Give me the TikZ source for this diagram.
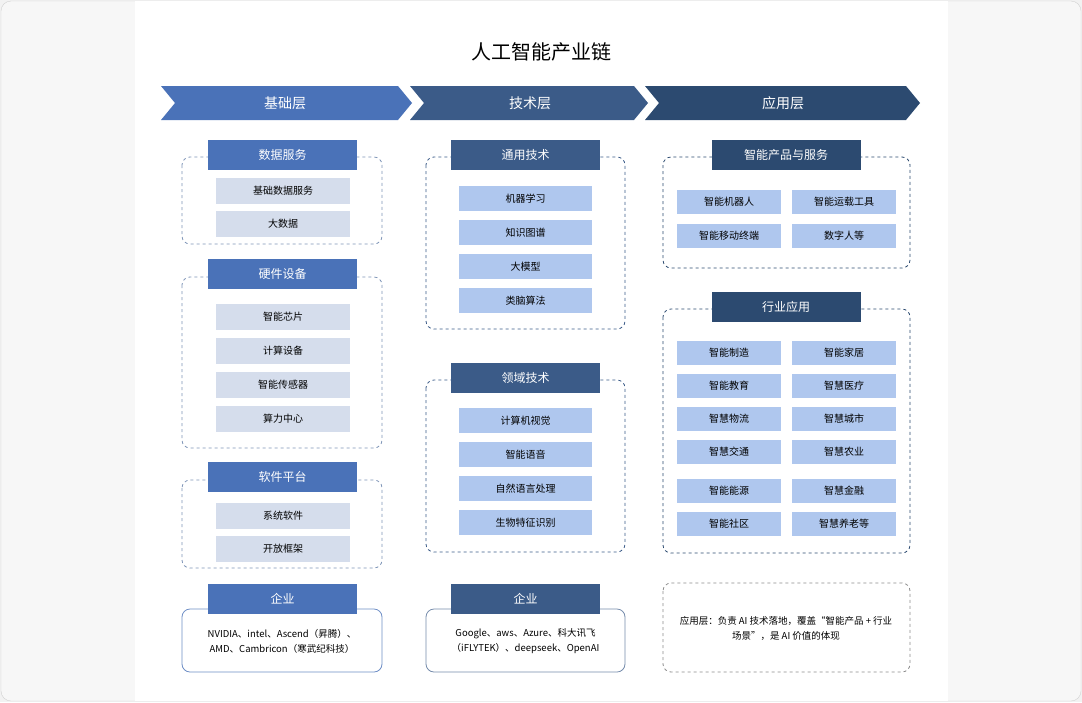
\documentclass[tikz,border=0pt]{standalone}
\usepackage{fontspec}
\setmainfont{Noto Sans CJK SC}
\begin{document}
\begin{tikzpicture}[x=1pt,y=-1pt,
  hdrA/.style={fill=cA,text=white,minimum width=149pt,minimum height=30pt,inner sep=0pt,font=\fontsize{12}{14}\selectfont},
  hdrB/.style={hdrA,fill=cB},
  hdrC/.style={hdrA,fill=cC},
  itemA/.style={fill=cG,minimum width=134pt,minimum height=26pt,inner sep=0pt,font=\fontsize{10}{12}\selectfont},
  itemB/.style={itemA,fill=cL,minimum width=133pt,minimum height=25pt},
  itemC/.style={itemA,fill=cL,minimum width=104pt,minimum height=24pt},
  dbox/.style={draw=cD,dashed,rounded corners=8pt,line width=0.8pt},
  sbox/.style={draw=cA!80,rounded corners=8pt,line width=0.8pt},
  band/.style={text=white,font=\fontsize{14}{16}\selectfont}]
\definecolor{cA}{HTML}{4A72B8}
\definecolor{cB}{HTML}{3B5B88}
\definecolor{cC}{HTML}{2C4A70}
\definecolor{cG}{HTML}{D5DDEC}
\definecolor{cL}{HTML}{AFC7EE}
\definecolor{cD}{HTML}{7F95B8}
\useasboundingbox (0,0) rectangle (1082,702);
\fill[white!95!black] (0,0) rectangle (1082,702);
\draw[white!82!black,fill=white!97!black,rounded corners=10pt] (1,1) rectangle (1081,701);
\fill[white] (135,1) rectangle (948,701);
\node[font=\fontsize{20}{24}\selectfont] (title) at (541,52) {人工智能产业链};
% bands
\fill[cA] (161,86) -- (398,86) -- (412,103) -- (398,120) -- (161,120) -- (175,103) -- cycle;
\fill[cB] (410,86) -- (634,86) -- (648,103) -- (634,120) -- (410,120) -- (424,103) -- cycle;
\fill[cC] (645,86) -- (906,86) -- (920,103) -- (906,120) -- (645,120) -- (659,103) -- cycle;
\node[band] (b1) at (285,103) {基础层};
\node[band] (b2) at (530,103) {技术层};
\node[band] (b3) at (783,103) {应用层};
% column 1
\draw[dbox] (182,157) rectangle (382,244);
\node[hdrA] (h11) at (282.5,155) {数据服务};
\node[itemA] (i11) at (283,191) {基础数据服务};
\node[itemA] (i12) at (283,224) {大数据};
\draw[dbox] (182,277) rectangle (382,448);
\node[hdrA] (h12) at (282.5,274) {硬件设备};
\node[itemA] at (283,317) {智能芯片};
\node[itemA] at (283,351) {计算设备};
\node[itemA] at (283,385) {智能传感器};
\node[itemA] at (283,419) {算力中心};
\draw[dbox] (182,480) rectangle (382,568);
\node[hdrA] (h13) at (282.5,477) {软件平台};
\node[itemA] at (283,516) {系统软件};
\node[itemA] at (283,549) {开放框架};
\draw[sbox] (182,609) rectangle (382,672);
\node[hdrA] (h14) at (282.5,599) {企业};
\node[align=center,font=\fontsize{9.5}{15}\selectfont] (t14) at (282,641) {NVIDIA、intel、Ascend（昇腾）、\\AMD、Cambricon（寒武纪科技）};
% column 2
\draw[dbox,draw=cB] (426,157) rectangle (625,329);
\node[hdrB] (h21) at (525.5,155) {通用技术};
\node[itemB] at (525.5,198.5) {机器学习};
\node[itemB] at (525.5,232.5) {知识图谱};
\node[itemB] at (525.5,266.5) {大模型};
\node[itemB] at (525.5,300.5) {类脑算法};
\draw[dbox,draw=cB] (426,380) rectangle (625,552);
\node[hdrB] (h22) at (525.5,378) {领域技术};
\node[itemB] at (525.5,420.5) {计算机视觉};
\node[itemB] at (525.5,454.5) {智能语音};
\node[itemB] at (525.5,488.5) {自然语言处理};
\node[itemB] at (525.5,522.5) {生物特征识别};
\draw[sbox,draw=cB!70] (426,609) rectangle (625,672);
\node[hdrB] (h23) at (525.5,599) {企业};
\node[align=center,font=\fontsize{9.5}{15}\selectfont] (t23) at (525.5,641) {Google、aws、Azure、科大讯飞\\（iFLYTEK）、deepseek、OpenAI};
% column 3
\draw[dbox,draw=cC] (663,157) rectangle (910,268);
\node[hdrC] (h31) at (786,155) {智能产品与服务};
\node[itemC] at (729,202) {智能机器人};
\node[itemC] at (844,202) {智能运载工具};
\node[itemC] at (729,236) {智能移动终端};
\node[itemC] at (844,236) {数字人等};
\draw[dbox,draw=cC] (663,309) rectangle (910,553);
\node[hdrC] (h32) at (786,307) {行业应用};
\node[itemC] at (729,353) {智能制造};
\node[itemC] at (844,353) {智能家居};
\node[itemC] at (729,386) {智能教育};
\node[itemC] at (844,386) {智慧医疗};
\node[itemC] at (729,419) {智慧物流};
\node[itemC] at (844,419) {智慧城市};
\node[itemC] at (729,452) {智慧交通};
\node[itemC] at (844,452) {智慧农业};
\node[itemC] at (729,491) {智能能源};
\node[itemC] at (844,491) {智慧金融};
\node[itemC] at (729,524) {智能社区};
\node[itemC] at (844,524) {智慧养老等};
\draw[dbox,draw=white!55!black] (663,583) rectangle (910,672);
\node[align=center,font=\fontsize{9.5}{15}\selectfont] (t33) at (786,628) {应用层：负责 AI 技术落地，覆盖“智能产品 + 行业\\场景”，是 AI 价值的体现};
\end{tikzpicture}
\end{document}
